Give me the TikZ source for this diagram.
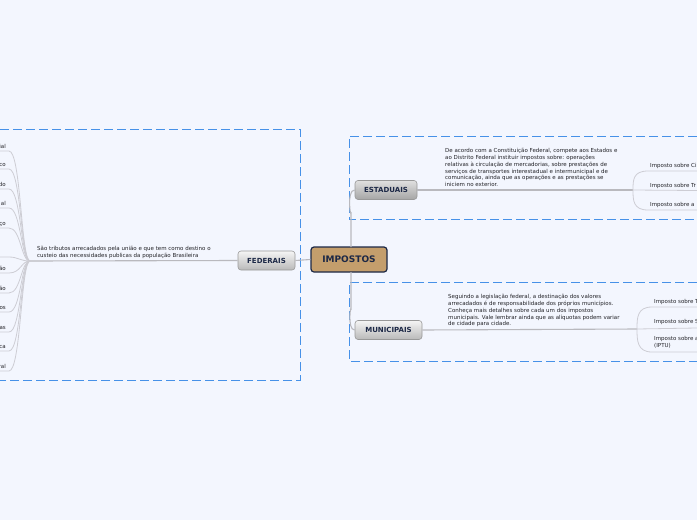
\documentclass[tikz,border=0pt]{standalone}
\usepackage{fontspec}
\setmainfont{DejaVu Sans}
\definecolor{bg}{RGB}{243,246,254}
\definecolor{dashblue}{RGB}{70,145,232}
\definecolor{lgray}{RGB}{185,185,190}
\definecolor{sgray}{RGB}{205,205,212}
\definecolor{tanfill}{RGB}{196,158,108}
\definecolor{navy}{RGB}{28,40,70}
\definecolor{txt}{RGB}{35,35,40}
\begin{document}
\begin{tikzpicture}[x=1pt,y=-1pt,
  groupbox/.style={draw=dashblue, line width=1pt, dash pattern=on 9pt off 4pt},
  conn/.style={draw=lgray, line width=1.1pt},
  sub/.style={draw=sgray, line width=0.8pt},
  central/.style={rounded corners=3pt, fill=tanfill, draw=navy, line width=1.2pt,
    minimum width=76pt, minimum height=25pt, inner sep=0,
    font=\fontsize{9}{10}\selectfont\bfseries, text=navy},
  topic/.style={rounded corners=3pt, draw=gray!80, line width=0.6pt,
    top color=gray!8, bottom color=gray!55, inner sep=0, minimum height=19pt,
    font=\fontsize{7}{8}\selectfont\bfseries, text=navy},
  note/.style={font=\fontsize{5.5}{6.8}\selectfont, align=left, inner sep=0,
    anchor=north west, text=txt},
  item/.style={font=\fontsize{5.5}{6.8}\selectfont, inner sep=0, text=txt}]
\fill[bg] (0,0) rectangle (697,520);
\useasboundingbox (0,0) rectangle (697,520);

% dashed group boxes
\draw[groupbox] (0,129) -- (300,129) -- (300,380) -- (0,380);
\draw[groupbox] (697,136) -- (349,136) -- (349,219) -- (697,219);
\draw[groupbox] (697,282) -- (349,282) -- (349,361) -- (697,361);

% main nodes
\node[central] (imp) at (349,259.5) {IMPOSTOS};
\node[topic, minimum width=57pt] (fed) at (266.5,260.5) {FEDERAIS};
\node[topic, minimum width=62pt, top color=gray!25, bottom color=gray!70] (est) at (386,190) {ESTADUAIS};
\node[topic, minimum width=67pt] (mun) at (388.5,330) {MUNICIPAIS};

% main connectors
\draw[conn] (imp.west) -- (fed.east);
\draw[conn] (351,247) -- (351,212) to[out=-90,in=180] (est.west);
\draw[conn] (351,272) -- (351,310) to[out=90,in=180] (mun.west);

% FEDERAIS branch
\coordinate (fj) at (30,261);
\draw[conn] (fed.west) -- (fj);
\node[note] (fnote) at (37,246.3) {São tributos arrecadados pela união e que tem como destino o\\custeio das necessidades publicas da população Brasileira};

\foreach \yy/\tt [count=\i] in {146/ial,164/co,184/do,203/al,223/ço,268/ão,288/ão,307/os,327/as,346/ca,366/ral}{
  \node[item, anchor=base east] (f\i) at (6,\yy+2) {\tt};
  \draw[sub] (0,\yy+5) -- (9,\yy+5) .. controls (21,\yy+5) and (21,261) .. (fj);
}
\draw[sub] (0,257) -- (9,257) .. controls (18,257) and (20,261) .. (fj);

% ESTADUAIS branch
\coordinate (ej) at (633,190);
\draw[conn] (est.east) -- (ej);
\node[note] (enote) at (445,148.3) {De acordo com a Constituição Federal, compete aos Estados e\\ao Distrito Federal instituir impostos sobre: operações\\relativas à circulação de mercadorias, sobre prestações de\\serviços de transportes interestadual e intermunicipal e de\\comunicação, ainda que as operações e as prestações se\\iniciem no exterior.};
\node[item, anchor=base west] (e1) at (650,167) {Imposto sobre Ci};
\node[item, anchor=base west] (e2) at (650,187) {Imposto sobre Tr};
\node[item, anchor=base west] (e3) at (650,206) {Imposto sobre a};
\draw[sub] (697,171) -- (648,171) .. controls (633,171) and (633,180) .. (ej);
\draw[sub] (ej) -- (697,190.5);
\draw[sub] (697,210) -- (648,210) .. controls (633,210) and (633,200) .. (ej);

% MUNICIPAIS branch
\coordinate (mj) at (637,329);
\draw[conn] (mun.east) -- (mj);
\node[note] (mnote) at (448,294.3) {Seguindo a legislação federal, a destinação dos valores\\arrecadados é de responsabilidade dos próprios municípios.\\Conheça mais detalhes sobre cada um dos impostos\\municipais. Vale lembrar ainda que as alíquotas podem variar\\de cidade para cidade.};
\node[item, anchor=base west] (m1) at (654,303) {Imposto sobre T};
\node[item, anchor=base west] (m2) at (654,323) {Imposto sobre S};
\node[item, anchor=north west, align=left] (m3) at (654,336.3) {Imposto sobre a\\(IPTU)};
\draw[sub] (697,307) -- (652,307) .. controls (637,307) and (637,318) .. (mj);
\draw[sub] (mj) -- (697,328);
\draw[sub] (697,352) -- (652,352) .. controls (637,352) and (637,340) .. (mj);
\end{tikzpicture}
\end{document}
